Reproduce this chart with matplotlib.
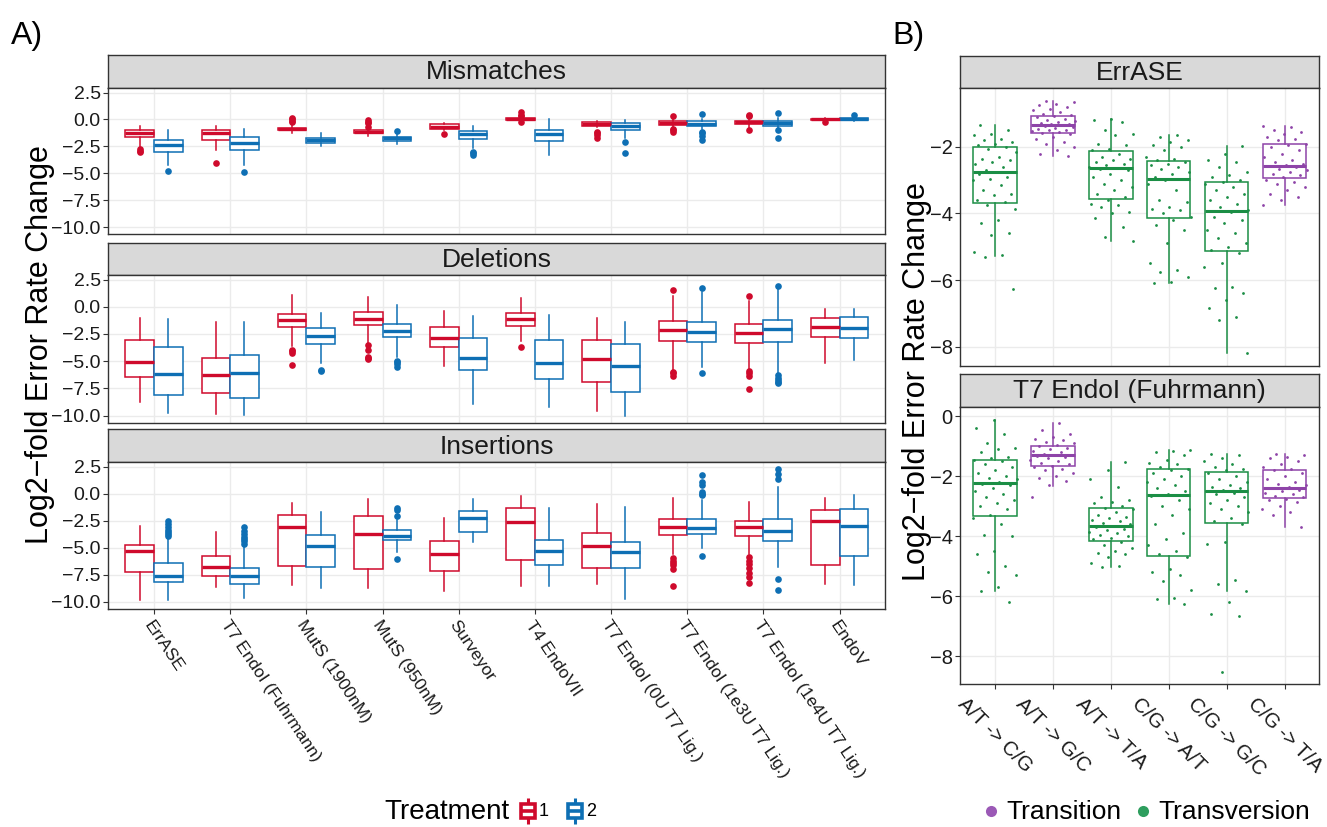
import matplotlib
matplotlib.use("Agg")
import matplotlib.pyplot as plt
import numpy as np
from matplotlib.patches import Rectangle

plt.rcParams['font.family'] = ['Liberation Sans', 'DejaVu Sans']

# ---------------------------------------------------------------- data
methods = ["ErrASE", "T7 EndoI (Fuhrmann)", "MutS (1900nM)", "MutS (950nM)",
           "Surveyor", "T4 EndoVII", "T7 EndoI (0U T7 Lig.)",
           "T7 EndoI (1e3U T7 Lig.)", "T7 EndoI (1e4U T7 Lig.)", "EndoV"]
facet_names = ["Mismatches", "Deletions", "Insertions"]
treatments = ["1", "2"]

# box statistics per method: [whisker_low, q1, median, q3, whisker_high]
mismatch_t1 = [[-2.54, -1.67, -1.30, -1.02, -0.56], [-2.79, -1.86, -1.30, -1.02, -0.56],
               [-1.24, -1.02, -0.90, -0.77, -0.53], [-1.52, -1.27, -1.15, -1.02, -0.77],
               [-1.00, -0.87, -0.68, -0.46, -0.31], [-0.15, -0.06, 0.03, 0.12, 0.20],
               [-0.74, -0.65, -0.43, -0.25, -0.12], [-0.75, -0.53, -0.34, -0.15, 0.09],
               [-0.80, -0.43, -0.28, -0.12, 0.10], [-0.15, -0.09, 0.00, 0.09, 0.12]]
mismatch_t1_out = [[-2.75, -2.9, -3.0], [-4.02], [0.1, 0.0, -0.1, -0.2],
                   [-0.06, -0.2, -0.37, -0.7], [-1.36], [0.65, 0.46, 0.3, -0.25],
                   [-1.15, -1.3, -1.46, -1.76], [0.31, -0.84, -0.95, -1.15],
                   [0.46, 0.3, -1.0], [-0.22]]
mismatch_t2 = [[-4.24, -2.97, -2.38, -1.92, -1.00], [-4.18, -2.85, -2.14, -1.67, -0.84],
               [-2.48, -2.14, -1.92, -1.73, -1.30], [-2.23, -1.98, -1.76, -1.58, -1.30],
               [-2.69, -1.80, -1.39, -1.08, -0.62], [-3.34, -2.04, -1.36, -1.02, 0.09],
               [-1.75, -1.02, -0.62, -0.34, -0.06], [-0.90, -0.62, -0.40, -0.15, 0.09],
               [-0.75, -0.56, -0.34, -0.12, 0.10], [-0.12, -0.03, 0.09, 0.12, 0.30]]
mismatch_t2_out = [[-4.77], [-4.86], [], [-1.08], [-3.0, -3.15, -3.34], [],
                   [-2.07, -3.1], [0.5, -1.15, -1.3, -1.5, -1.86],
                   [0.56, -1.02, -1.76], [0.46]]

deletion_t1 = [[-8.76, -6.46, -5.06, -3.07, -1.06], [-9.84, -7.92, -6.30, -4.66, -1.40],
               [-3.63, -1.89, -1.18, -0.65, 1.12], [-3.32, -1.68, -1.12, -0.50, 0.87],
               [-5.40, -3.70, -2.83, -1.83, -0.37], [-3.10, -1.80, -1.15, -0.53, 0.84],
               [-9.60, -6.89, -4.84, -3.04, -1.02], [-5.81, -3.14, -2.14, -1.27, 1.02],
               [-5.81, -3.29, -2.42, -1.55, 0.56], [-5.12, -2.76, -1.89, -1.02, -0.22]]
deletion_t1_out = [[], [], [-3.94, -4.1, -4.25, -5.34], [-3.5, -3.94, -4.57, -4.7, -4.81],
                   [], [-3.70], [], [1.58, -5.95, -6.1, -6.4],
                   [1.02, -5.9, -6.1, -6.37, -7.52], []]
deletion_t2 = [[-9.78, -8.14, -6.18, -3.70, -1.15], [-9.94, -8.35, -6.12, -4.44, -1.40],
               [-5.19, -3.39, -2.70, -1.99, -0.59], [-4.57, -2.80, -2.24, -1.55, 0.19],
               [-8.91, -5.84, -4.66, -2.89, -0.81], [-9.22, -6.68, -5.19, -3.07, -0.71],
               [-10.06, -7.83, -5.40, -3.45, -1.37], [-5.50, -3.23, -2.33, -1.37, 1.34],
               [-6.18, -3.23, -2.08, -1.18, 1.71], [-4.88, -2.89, -1.96, -0.93, -0.22]]
deletion_t2_out = [[], [], [-5.81, -5.9], [-4.94, -5.1, -5.3, -5.5], [], [], [],
                   [1.71, -6.06], [1.93, -6.3, -6.5, -6.7, -6.9, -6.99], []]

insertion_t1 = [[-9.86, -7.22, -5.31, -4.70, -2.95], [-8.63, -7.59, -6.79, -5.74, -3.50],
                [-8.42, -6.63, -3.04, -1.93, -0.89], [-8.69, -6.94, -3.75, -2.09, -0.49],
                [-9.00, -7.16, -5.56, -4.39, -2.27], [-8.48, -6.11, -2.64, -1.35, -0.18],
                [-8.32, -6.85, -4.85, -3.62, -0.95], [-5.56, -3.81, -3.10, -2.36, -0.34],
                [-5.56, -3.93, -3.10, -2.55, -0.74], [-8.32, -6.60, -2.52, -1.50, -0.40]]
insertion_t1_out = [[], [], [], [], [], [], [],
                    [-5.96, -6.2, -6.4, -6.6, -6.94, -8.48],
                    [-5.87, -6.2, -6.5, -6.9, -7.3, -7.7, -8.2], []]
insertion_t2 = [[-9.86, -8.14, -7.59, -6.42, -4.00], [-9.64, -8.32, -7.62, -6.85, -4.79],
                [-8.69, -6.79, -4.85, -3.78, -1.66], [-5.34, -4.27, -3.87, -3.35, -2.45],
                [-4.42, -3.50, -2.24, -1.60, -0.49], [-8.51, -6.54, -5.25, -4.24, -1.32],
                [-9.70, -6.85, -5.34, -4.48, -1.20], [-5.04, -3.72, -3.13, -2.33, -0.58],
                [-6.73, -4.39, -3.47, -2.36, 0.64], [-8.42, -5.74, -2.95, -1.44, -0.15]]
insertion_t2_out = [[-2.49, -2.8, -3.1, -3.3, -3.5, -3.7, -3.87],
                    [-3.10, -3.4, -3.7, -4.0, -4.2, -4.4, -4.6], [],
                    [-1.32, -1.5, -2.03, -6.02], [], [], [],
                    [1.72, 1.1, 0.8, 0.18, 0.03, -0.09, -5.74],
                    [2.27, 1.81, 1.35, -7.86, -8.85], []]

# ---- panel B
mutation_types = ["A/T -> C/G", "A/T -> G/C", "A/T -> T/A",
                  "C/G -> A/T", "C/G -> G/C", "C/G -> T/A"]
mutation_class = ["Transversion", "Transition", "Transversion",
                  "Transversion", "Transversion", "Transition"]
b_facets = ["ErrASE", "T7 EndoI (Fuhrmann)"]

errase_box = [[-5.27, -3.67, -2.74, -2.00, -1.35], [-2.28, -1.57, -1.34, -1.07, -0.63],
              [-4.83, -3.55, -2.62, -2.11, -1.15], [-6.08, -4.14, -2.96, -2.41, -1.63],
              [-8.20, -5.14, -3.91, -3.04, -1.97], [-3.75, -2.92, -2.57, -1.91, -1.37]]
errase_points = [
    [-1.35, -1.5, -1.6, -1.65, -1.75, -1.8, -1.85, -1.9, -1.95, -2.0, -2.05, -2.15, -2.3,
     -2.35, -2.4, -2.45, -2.5, -2.6, -2.7, -2.74, -2.75, -2.8, -2.9, -2.95, -3.0, -3.15,
     -3.3, -3.4, -3.45, -3.6, -3.65, -3.75, -3.85, -4.2, -4.3, -4.6, -4.65, -5.15, -5.25,
     -5.3, -6.26],
    [-0.63, -0.65, -0.7, -0.75, -0.8, -0.85, -0.9, -0.95, -1.0, -1.05, -1.08, -1.1, -1.15,
     -1.2, -1.22, -1.25, -1.28, -1.3, -1.32, -1.34, -1.35, -1.38, -1.4, -1.42, -1.45, -1.48,
     -1.5, -1.52, -1.55, -1.57, -1.6, -1.7, -1.75, -1.85, -1.9, -2.0, -2.1, -2.2, -2.28],
    [-1.15, -1.2, -1.25, -1.5, -1.6, -1.65, -1.9, -1.95, -2.05, -2.1, -2.2, -2.3, -2.35,
     -2.4, -2.45, -2.5, -2.55, -2.6, -2.62, -2.65, -2.7, -2.8, -2.9, -3.0, -3.1, -3.2, -3.3,
     -3.4, -3.5, -3.6, -3.7, -3.75, -3.8, -3.95, -4.0, -4.15, -4.4, -4.7, -4.83],
    [-1.63, -1.7, -1.8, -1.85, -1.95, -2.0, -2.1, -2.3, -2.35, -2.4, -2.45, -2.5, -2.55,
     -2.6, -2.65, -2.75, -2.8, -2.9, -2.96, -3.0, -3.1, -3.3, -3.6, -3.65, -3.8, -3.85,
     -3.9, -4.0, -4.1, -4.2, -4.35, -4.5, -4.9, -5.5, -5.7, -5.75, -5.9, -6.05, -6.08],
    [-1.97, -2.2, -2.4, -2.45, -2.6, -2.75, -2.85, -2.9, -3.0, -3.05, -3.1, -3.2, -3.3,
     -3.4, -3.5, -3.6, -3.7, -3.8, -3.9, -3.95, -4.1, -4.2, -4.3, -4.5, -4.6, -4.75, -4.9,
     -5.0, -5.1, -5.2, -5.5, -5.6, -6.2, -6.25, -6.4, -6.6, -6.85, -7.1, -7.2, -8.2],
    [-1.37, -1.4, -1.5, -1.55, -1.6, -1.7, -1.75, -1.8, -1.9, -1.95, -2.0, -2.1, -2.2,
     -2.3, -2.4, -2.45, -2.5, -2.55, -2.57, -2.6, -2.65, -2.7, -2.75, -2.8, -2.85, -2.9,
     -3.0, -3.05, -3.1, -3.2, -3.3, -3.4, -3.5, -3.6, -3.75],
]
t7_box = [[-5.83, -3.32, -2.23, -1.47, -0.11], [-2.33, -1.66, -1.29, -1.00, -0.21],
          [-5.03, -4.14, -3.66, -3.06, -1.53], [-6.26, -4.66, -2.62, -1.74, -1.13],
          [-5.83, -3.54, -2.49, -1.86, -1.24], [-3.69, -2.73, -2.39, -1.78, -1.24]]
t7_points = [
    [-0.11, -0.4, -0.6, -0.9, -1.05, -1.1, -1.2, -1.35, -1.4, -1.45, -1.5, -1.6, -1.7,
     -1.8, -1.9, -2.0, -2.05, -2.1, -2.2, -2.25, -2.3, -2.4, -2.5, -2.6, -2.7, -2.8, -2.9,
     -3.0, -3.1, -3.3, -3.4, -3.6, -3.95, -4.0, -4.5, -4.6, -5.0, -5.2, -5.3, -5.7, -5.83,
     -6.2],
    [-0.21, -0.45, -0.6, -0.7, -0.75, -0.8, -0.85, -0.9, -0.95, -1.0, -1.05, -1.1, -1.15,
     -1.2, -1.25, -1.28, -1.3, -1.32, -1.35, -1.4, -1.45, -1.5, -1.55, -1.6, -1.65, -1.7,
     -1.75, -1.8, -1.9, -2.0, -2.05, -2.15, -2.3, -2.69],
    [-1.53, -1.8, -2.1, -2.35, -2.7, -2.8, -2.85, -2.9, -3.0, -3.05, -3.1, -3.2, -3.3,
     -3.35, -3.4, -3.45, -3.5, -3.55, -3.6, -3.65, -3.7, -3.75, -3.8, -3.85, -3.9, -3.95,
     -4.0, -4.05, -4.1, -4.2, -4.3, -4.4, -4.5, -4.55, -4.6, -4.7, -4.9, -5.0, -5.03],
    [-1.13, -1.15, -1.2, -1.3, -1.45, -1.55, -1.6, -1.7, -1.75, -1.8, -1.9, -2.0, -2.1,
     -2.2, -2.3, -2.4, -2.5, -2.6, -2.65, -2.8, -3.0, -3.1, -3.3, -3.6, -3.9, -4.1, -4.3,
     -4.5, -4.6, -4.7, -5.1, -5.2, -5.3, -5.5, -5.8, -6.05, -6.1, -6.26],
    [-1.24, -1.3, -1.4, -1.5, -1.6, -1.7, -1.75, -1.8, -1.9, -2.0, -2.1, -2.2, -2.3,
     -2.35, -2.4, -2.45, -2.5, -2.55, -2.6, -2.7, -2.8, -2.9, -3.0, -3.1, -3.2, -3.4, -3.5,
     -3.6, -4.2, -4.25, -5.45, -5.6, -5.83, -6.2, -6.6, -6.65, -8.52],
    [-1.24, -1.3, -1.35, -1.4, -1.5, -1.6, -1.7, -1.75, -1.8, -1.9, -2.0, -2.1, -2.2,
     -2.25, -2.3, -2.35, -2.4, -2.45, -2.5, -2.55, -2.6, -2.65, -2.7, -2.75, -2.8, -2.85,
     -3.0, -3.1, -3.2, -3.3, -3.69],
]

# ---------------------------------------------------------------- style
W, H = 1327, 827
RED, BLUE = "#CF0A2C", "#0E6FB4"
CLASS_COL = {"Transition": "#8E44A8", "Transversion": "#1B8E45"}
LEG_COL = {"Transition": "#9B59B6", "Transversion": "#2E9E5E"}
STRIP = "#D9D9D9"
EDGE = "#333333"
GRID = "#EBEBEB"
TXT = "#1A1A1A"

fig = plt.figure(figsize=(W / 100, H / 100), dpi=100)


def ax_px(x0, y0, x1, y1):
    return fig.add_axes([x0 / W, 1 - y1 / H, (x1 - x0) / W, (y1 - y0) / H])


def make_strip(x0, y0, x1, y1, label):
    s = ax_px(x0, y0, x1, y1)
    s.set_facecolor(STRIP)
    s.set_xticks([]); s.set_yticks([])
    for sp in s.spines.values():
        sp.set_color(EDGE); sp.set_linewidth(1.0)
    s.text(0.5, 0.47, label, ha='center', va='center', fontsize=19, color=TXT,
           transform=s.transAxes)
    return s


def style_panel(ax):
    ax.set_facecolor('white')
    for sp in ax.spines.values():
        sp.set_color(EDGE); sp.set_linewidth(1.0)
    ax.grid(True, color=GRID, linewidth=1.0)
    ax.set_axisbelow(True)
    ax.tick_params(axis='both', length=3.5, width=0.8, color=EDGE, labelcolor=TXT)


def to_stats(rows, outs=None):
    out = []
    for i, r in enumerate(rows):
        out.append(dict(whislo=r[0], q1=r[1], med=r[2], q3=r[3], whishi=r[4],
                        fliers=(outs[i] if outs is not None else [])))
    return out


def draw_boxes(ax, st, positions, width, color, showfliers=True, lw=1.1, mlw=2.4):
    ax.bxp(st, positions=positions, widths=width, patch_artist=True, showcaps=False,
           showfliers=showfliers, manage_ticks=False,
           boxprops=dict(facecolor='white', edgecolor=color, linewidth=lw),
           medianprops=dict(color=color, linewidth=mlw, solid_capstyle='butt'),
           whiskerprops=dict(color=color, linewidth=lw),
           flierprops=dict(marker='o', markerfacecolor=color, markeredgecolor=color,
                           markersize=4.8, markeredgewidth=0),
           zorder=3)


def fmt_minus(s):
    return s.replace('-', '\u2212')


# ---------------------------------------------------------------- panel A
facet_data = [
    (mismatch_t1, mismatch_t1_out, mismatch_t2, mismatch_t2_out),
    (deletion_t1, deletion_t1_out, deletion_t2, deletion_t2_out),
    (insertion_t1, insertion_t1_out, insertion_t2, insertion_t2_out),
]
rowsA = [(55, 88, 234.3), (242.7, 275, 422.7), (429.3, 462.3, 609)]
AX0, AX1 = 108.3, 885.3
pos = np.arange(1, len(methods) + 1)
a_ticks = [2.5, 0.0, -2.5, -5.0, -7.5, -10.0]
for k, (name, (t1, t1o, t2, t2o), (st, sb, pb)) in enumerate(zip(facet_names, facet_data, rowsA)):
    make_strip(AX0, st, AX1, sb, name)
    ax = ax_px(AX0, sb, AX1, pb)
    style_panel(ax)
    draw_boxes(ax, to_stats(t1, t1o), pos - 0.1875, 0.375, RED)
    draw_boxes(ax, to_stats(t2, t2o), pos + 0.1875, 0.375, BLUE)
    ax.set_xlim(0.4, len(methods) + 0.6)
    ax.set_ylim(-10.65, 2.92)
    ax.set_yticks(a_ticks)
    ax.set_yticklabels([fmt_minus(f"{v:.1f}") for v in a_ticks], fontsize=14)
    ax.tick_params(axis='y', pad=2)
    ax.set_xticks(pos)
    if k == 2:
        ax.set_xticklabels(methods, rotation=-56, ha='left', va='top',
                           rotation_mode='anchor', fontsize=12.5)
        ax.tick_params(axis='x', pad=3)
        for lab in ax.get_xticklabels():
            lab.set_x(lab.get_position()[0])
    else:
        ax.tick_params(axis='x', length=0, labelbottom=False)

# ---------------------------------------------------------------- panel B
rowsB = [(56, 88.3, 366), (374, 406.7, 684)]
BX0, BX1 = 960.3, 1319.3
posB = np.arange(1, len(mutation_types) + 1)
b_boxes = [errase_box, t7_box]
b_points = [errase_points, t7_points]
b_ylims = [(-8.58, -0.24), (-8.92, 0.32)]
b_ticks = [[-2, -4, -6, -8], [0, -2, -4, -6, -8]]
golden = 0.6180339887
for k, (name, (st, sb, pb)) in enumerate(zip(b_facets, rowsB)):
    make_strip(BX0, st, BX1, sb, name)
    ax = ax_px(BX0, sb, BX1, pb)
    style_panel(ax)
    for i, cls in enumerate(mutation_class):
        col = CLASS_COL[cls]
        draw_boxes(ax, to_stats([b_boxes[k][i]]), [posB[i]], 0.75, col,
                   showfliers=False, lw=1.1, mlw=2.2)
        vals = np.array(b_points[k][i])
        n = len(vals)
        jit = (((np.arange(n) * golden + 0.17 * (i + 1) + 0.3 * k) % 1.0) - 0.5) * 0.78
        ax.scatter(posB[i] + jit, vals, s=4.0, color=col, linewidths=0, zorder=4)
    ax.set_xlim(0.4, len(mutation_types) + 0.6)
    ax.set_ylim(*b_ylims[k])
    ax.set_yticks(b_ticks[k])
    ax.set_yticklabels([fmt_minus(str(v)) for v in b_ticks[k]], fontsize=14.5)
    ax.tick_params(axis='y', pad=2)
    ax.set_xticks(posB)
    if k == 1:
        ax.set_xticklabels(mutation_types, rotation=-45, ha='center', va='top',
                           rotation_mode='default', fontsize=14.5)
        ax.tick_params(axis='x', pad=4)
    else:
        ax.tick_params(axis='x', length=0, labelbottom=False)

# ---------------------------------------------------------------- labels & legends
ov = fig.add_axes([0, 0, 1, 1], zorder=-1)
ov.set_xlim(0, W); ov.set_ylim(H, 0); ov.axis('off')

ov.text(11, 36, "A)", fontsize=23, ha='left', va='center', color='black')
ov.text(892, 36, "B)", fontsize=23, ha='left', va='center', color='black')
ov.text(40, 345, "Log2\u2212fold Error Rate Change", rotation=90, fontsize=22,
        ha='center', va='center', color='black')
ov.text(917, 382, "Log2\u2212fold Error Rate Change", rotation=90, fontsize=22,
        ha='center', va='center', color='black')

# Treatment legend
ov.text(384, 812, "Treatment", fontsize=20, ha='left', va='center', color='black')
for x0, col, lab in [(521, RED, treatments[0]), (568, BLUE, treatments[1])]:
    ov.plot([x0 + 7, x0 + 7], [798, 824], color=col, lw=2.2, zorder=2,
            solid_capstyle='butt')
    ov.add_patch(Rectangle((x0, 803.5), 14, 14, facecolor='white', edgecolor=col,
                           linewidth=2.6, zorder=3))
    ov.plot([x0, x0 + 14], [810.5, 810.5], color=col, lw=2.6, zorder=4,
            solid_capstyle='butt')
    ov.text(x0 + 18, 812, lab, fontsize=13, ha='left', va='center', color='black')

# mutation class legend
for xc, cls in [(991, "Transition"), (1143, "Transversion")]:
    ov.plot([xc], [811], marker='o', ms=8, color=LEG_COL[cls], mec='none')
    ov.text(xc + 15, 812, cls, fontsize=19, ha='left', va='center', color='black')

fig.savefig("out.png", dpi=100)
